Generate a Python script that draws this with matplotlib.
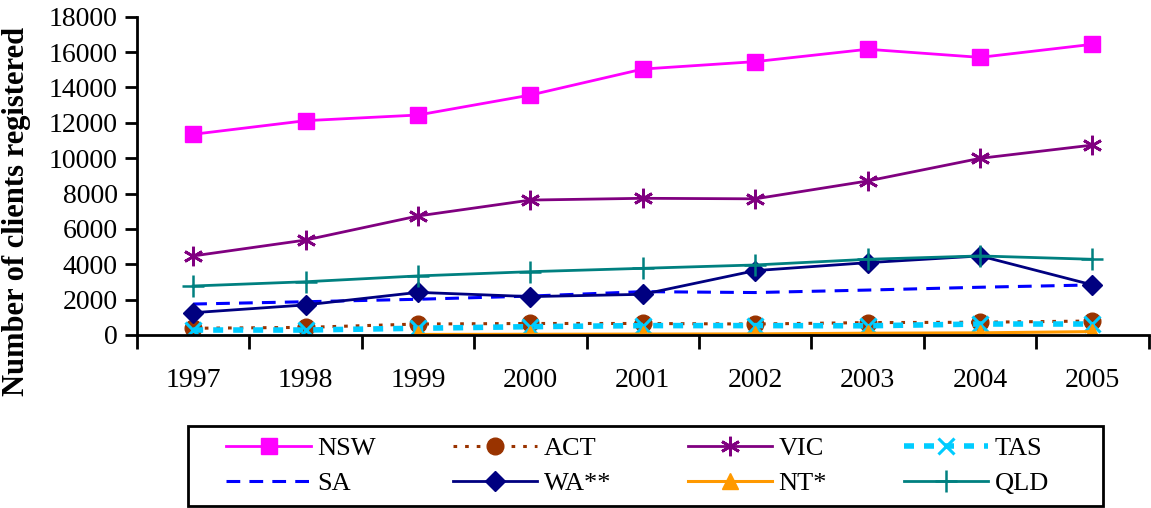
import matplotlib
matplotlib.use("Agg")
import matplotlib.pyplot as plt
from matplotlib.patches import Rectangle
import numpy as np

years = ["1997", "1998", "1999", "2000", "2001", "2002", "2003", "2004", "2005"]

nsw = [11350, 12120, 12440, 13570, 15040, 15460, 16160, 15700, 16440]
act = [380, 430, 620, 650, 650, 620, 700, 720, 790]
vic = [4470, 5370, 6730, 7630, 7730, 7700, 8710, 9990, 10740]
tas = [280, 280, 380, 470, 530, 530, 520, 620, 620]
sa = [1750, 1880, 2020, 2200, 2450, 2400, 2540, 2700, 2830]
wa = [1260, 1700, 2410, 2170, 2300, 3640, 4090, 4470, 2830]
nt_years = ["1999", "2000", "2001", "2002", "2003", "2004", "2005"]
nt = [30, 40, 50, 60, 100, 120, 190]
qld = [2770, 3010, 3340, 3580, 3770, 3960, 4280, 4470, 4280]

plt.rcParams["font.family"] = ["Liberation Serif", "DejaVu Serif"]

fig = plt.figure(figsize=(11.51, 5.08), dpi=100)
ax = fig.add_axes([0.119, 0.3406, 0.879, 0.6265])

x = np.arange(len(years))
x_nt = np.array([years.index(y) for y in nt_years])

h_nsw, = ax.plot(x, nsw, color="#FF00FF", lw=2, marker="s", ms=11, label="NSW")
h_act, = ax.plot(x, act, color="#993300", lw=2.2, ls=(0, (1.2, 2.6)), marker="o", ms=12, label="ACT")
h_vic, = ax.plot(x, vic, color="#800080", lw=2, marker=(6, 2, 0), ms=14, mew=2, label="VIC")
h_tas, = ax.plot(x, tas, color="#00CCFF", lw=4, ls=(0, (1.8, 1.8)), marker="x", ms=12, mew=2.2, label="TAS")
h_sa, = ax.plot(x, sa, color="#0000FF", lw=2.2, ls=(0, (4.5, 3)), label="SA")
h_wa, = ax.plot(x, wa, color="#000080", lw=2, marker="D", ms=10, label="WA**")
h_nt, = ax.plot(x_nt, nt, color="#FF9900", lw=2.2, marker="^", ms=12, label="NT*")
h_qld, = ax.plot(x, qld, color="#008080", lw=2, marker="+", ms=16, mew=1.8, label="QLD")

ax.set_xlim(-0.5, len(years) - 0.5)
ax.set_ylim(0, 18000)
ax.set_yticks(np.arange(0, 18001, 2000))
ax.set_xticks(x)
ax.set_xticklabels(years)
ax.set_xticks(np.arange(-0.5, len(years)), minor=True)
ax.tick_params(axis="x", which="major", length=0, pad=24, labelsize=20)
ax.tick_params(axis="x", which="minor", length=10, width=2, direction="out")
ax.tick_params(axis="y", length=9, width=2, direction="out", labelsize=20, pad=5)

for side in ["top", "right"]:
    ax.spines[side].set_visible(False)
ax.spines["left"].set_linewidth(2)
ax.spines["bottom"].set_linewidth(2)

fig.text(0.014, 0.583, "Number of clients registered", rotation=90,
         ha="center", va="center", fontsize=22, fontweight="bold")

# legend box drawn separately, entries laid out inside it
fig.patches.append(Rectangle((0.1633, 0.004), 0.795, 0.157, transform=fig.transFigure,
                             fill=False, edgecolor="black", linewidth=2))
handles = [h_nsw, h_sa, h_act, h_wa, h_vic, h_nt, h_tas, h_qld]
leg = fig.legend(handles=handles, labels=[h.get_label() for h in handles],
                 ncol=4, loc="center", bbox_to_anchor=(0.554, 0.0827),
                 fontsize=19, frameon=False, handlelength=3.2, handletextpad=0.25,
                 borderaxespad=0, borderpad=0, labelspacing=0.45, columnspacing=2.9)

fig.savefig("out.png", dpi=100)
